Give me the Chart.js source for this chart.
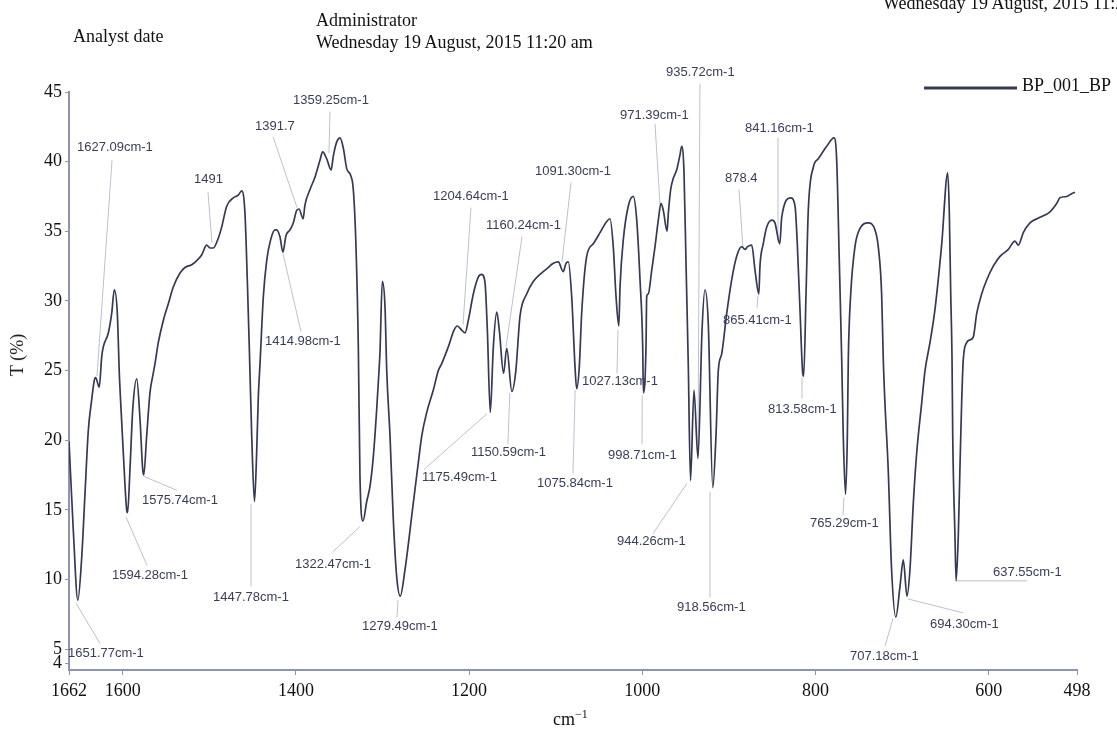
<!DOCTYPE html>
<html>
<head>
<meta charset="utf-8">
<title>BP_001_BP IR spectrum</title>
<script src="https://cdn.jsdelivr.net/npm/chart.js@4.4.1/dist/chart.umd.min.js"></script>
<style>
  html, body { margin: 0; padding: 0; background: #fff; }
  #wrap { position: relative; width: 1117px; height: 730px; overflow: hidden; }
  #chart { position: absolute; left: 0; top: 0; }
  .txt { position: absolute; font-family: "Liberation Serif", "Times New Roman", serif; font-size: 18px; line-height: 18px; color: #111; white-space: nowrap; }
  .txt sup { font-size: 12px; line-height: 0; vertical-align: 7px; }
</style>
</head>
<body>
<div id="wrap">
  <canvas id="chart" width="1117" height="730"></canvas>
  <div class="txt" style="left:883px; top:-6px;">Wednesday 19 August, 2015 11:20 am</div>
  <div class="txt" style="left:73px; top:27px;">Analyst date</div>
  <div class="txt" style="left:316px; top:11px;">Administrator</div>
  <div class="txt" style="left:316px; top:33px;">Wednesday 19 August, 2015 11:20 am</div>
  <div class="txt" style="left:17px; top:355px; transform: translate(-50%, -50%) rotate(-90deg);">T (%)</div>
  <div class="txt" style="left:553px; top:710px;">cm<sup>&minus;1</sup></div>
</div>
<script>
// spectrum (cm-1, T %)
const wavenumber = [
  1662, 1657, 1651.8, 1647.3, 1643.5, 1639.7, 1635.8, 1632.8, 1631.2, 1627.1,
  1624.2, 1622.4, 1616.6, 1612.7, 1609.7, 1606.2, 1603.9, 1602.3, 1599.3, 1595.4,
  1594.3, 1591.6, 1588.4, 1583.8, 1580.0, 1576.9, 1575.7, 1572.3, 1568.5, 1564.7,
  1562.7, 1558.9, 1553.1, 1547.3, 1541.6, 1533.8, 1528.1, 1520.3, 1514.5, 1508.8,
  1503.0, 1499.2, 1495.4, 1489.6, 1485.7, 1479.9, 1472.3, 1466.5, 1462.6, 1458.8,
  1456.1, 1453.8, 1451.0, 1447.8, 1445.3, 1443.4, 1441.4, 1437.6, 1433.7, 1429.1,
  1424.1, 1422.2, 1418.4, 1415.0, 1411.4, 1406.8, 1403.0, 1399.1, 1396.4, 1391.7,
  1389.5, 1383.7, 1377.9, 1372.2, 1369.1, 1364.4, 1359.3, 1356.8, 1352.9, 1349.1,
  1345.3, 1341.3, 1336.7, 1333.7, 1330.6, 1327.9, 1326.0, 1322.5, 1318.2, 1314.4,
  1310.6, 1306.7, 1304.0, 1302.9, 1300.2, 1297.1, 1295.1, 1291.3, 1287.5, 1283.6,
  1279.5, 1274.0, 1264.4, 1258.6, 1254.7, 1248.9, 1241.3, 1235.5, 1231.6, 1224.0,
  1217.4, 1213.6, 1208.5, 1204.6, 1200.9, 1195.1, 1189.4, 1185.4, 1181.6, 1178.9,
  1175.5, 1172.0, 1168.1, 1165.1, 1160.2, 1156.5, 1150.6, 1146.0, 1141.2, 1133.5,
  1125.9, 1118.1, 1110.4, 1102.7, 1097.0, 1091.3, 1088.1, 1085.4, 1081.5, 1077.7,
  1075.8, 1072.7, 1070.0, 1064.2, 1056.6, 1048.8, 1041.1, 1037.3, 1033.5, 1030.3,
  1027.1, 1025.7, 1021.9, 1016.2, 1010.4, 1006.4, 1002.6, 999.5, 998.7, 995.7,
  994.9, 993.1, 989.1, 985.3, 981.5, 978.4, 975.7, 971.4, 969.9, 967.2,
  964.2, 960.3, 956.4, 954.5, 951.8, 949.5, 946.9, 944.3, 940.3, 935.7,
  931.0, 927.6, 923.8, 918.6, 914.9, 912.2, 908.3, 902.5, 896.8, 891.0,
  885.2, 881.4, 878.4, 873.6, 869.8, 865.4, 864.1, 860.3, 856.3, 850.5,
  846.8, 841.2, 839.0, 828.6, 823.6, 821.0, 817.9, 814.7, 813.6, 810.9,
  808.3, 802.5, 796.7, 787.0, 778.6, 775.5, 772.5, 769.7, 767.9, 765.3,
  763.2, 762.1, 759.3, 754.4, 748.6, 739.0, 731.3, 727.5, 723.6, 721.7,
  719.8, 716.0, 712.1, 707.2, 702.4, 698.6, 694.3, 690.9, 687.0, 683.1,
  677.3, 673.5, 667.8, 662.0, 654.2, 647.3, 645.5, 643.8, 642.3, 641.5,
  638.9, 637.6, 635.1, 633.2, 631.2, 629.3, 625.4, 621.6, 617.8, 613.8,
  608.1, 602.3, 594.7, 586.9, 577.3, 569.6, 565.8, 560.0, 552.3, 540.8,
  529.2, 521.5, 517.7, 510.0, 504.2, 500.3
];
const transmittance = [
  19.9, 13.5, 8.5, 11.6, 16.2, 20.7, 22.9, 24.3, 24.5, 23.8,
  26.0, 26.7, 27.7, 29.1, 30.8, 29.1, 24.8, 22.7, 19.1, 15.0,
  14.8, 17.9, 22.2, 24.4, 21.5, 17.9, 17.5, 20.3, 23.4, 24.8,
  25.5, 27.0, 28.6, 29.8, 31.0, 32.0, 32.4, 32.6, 32.9, 33.3,
  34.0, 33.8, 33.8, 34.5, 35.3, 36.8, 37.4, 37.6, 37.9, 36.3,
  31.5, 26.7, 20.3, 15.6, 19.1, 23.1, 25.5, 30.3, 32.9, 34.4,
  35.1, 35.1, 34.6, 33.5, 34.7, 35.1, 35.6, 36.5, 36.6, 35.9,
  36.9, 38.0, 38.9, 40.1, 40.7, 40.2, 39.4, 40.4, 41.4, 41.7,
  41.0, 39.5, 39.0, 38.0, 33.9, 26.7, 17.4, 14.2, 15.6, 16.7,
  18.8, 22.2, 25.0, 26.3, 31.4, 29.6, 25.0, 20.3, 14.3, 10.2,
  8.8, 10.7, 15.5, 18.4, 20.3, 22.0, 23.6, 25.0, 25.5, 26.7,
  27.9, 28.2, 27.9, 27.7, 28.6, 30.5, 31.7, 31.9, 31.3, 27.9,
  22.0, 26.7, 29.2, 27.9, 24.8, 26.6, 23.5, 25.0, 28.9, 30.5,
  31.4, 31.9, 32.3, 32.7, 32.8, 32.1, 32.7, 32.8, 30.3, 25.3,
  23.7, 25.3, 29.1, 33.2, 34.1, 34.9, 35.7, 35.9, 33.9, 30.3,
  28.2, 31.0, 34.4, 36.8, 37.5, 35.8, 31.5, 26.7, 23.4, 26.7,
  30.3, 30.5, 32.2, 33.9, 35.8, 37.0, 36.5, 35.0, 36.3, 38.0,
  38.8, 39.4, 40.5, 41.1, 39.2, 32.7, 25.5, 17.1, 23.6, 18.7,
  27.9, 30.8, 28.4, 16.6, 20.3, 25.0, 26.2, 29.1, 31.5, 33.2,
  33.9, 33.7, 33.9, 34.0, 32.2, 30.5, 32.5, 34.1, 35.3, 35.8,
  35.6, 34.1, 36.0, 37.4, 36.8, 34.1, 29.4, 24.8, 24.6, 30.5,
  36.5, 39.6, 40.2, 41.1, 41.7, 40.1, 32.9, 25.8, 20.3, 16.1,
  20.3, 25.8, 30.5, 33.9, 35.2, 35.6, 35.1, 33.9, 30.5, 25.8,
  22.7, 17.9, 10.7, 7.3, 9.5, 11.4, 8.8, 10.7, 15.5, 19.1,
  22.7, 25.0, 27.0, 29.4, 34.1, 39.2, 36.5, 30.5, 25.8, 20.3,
  13.1, 9.9, 13.1, 17.9, 22.7, 25.8, 27.0, 27.2, 27.4, 29.1,
  30.5, 31.5, 32.5, 33.2, 33.7, 34.3, 34.0, 34.9, 35.6, 36.0,
  36.4, 37.0, 37.4, 37.5, 37.7, 37.8
];

const xTicks = [1662, 1600, 1400, 1200, 1000, 800, 600, 498];
const yTicks = [4, 5, 10, 15, 20, 25, 30, 35, 40, 45];
const seriesName = 'BP_001_BP';

// peak annotations: text and the point on the curve the leader touches
const peakLabels = [
  '1627.09cm-1', '1651.77cm-1', '1594.28cm-1', '1575.74cm-1', '1491',
  '1447.78cm-1', '1414.98cm-1', '1391.7', '1359.25cm-1', '1322.47cm-1',
  '1279.49cm-1', '1204.64cm-1', '1175.49cm-1', '1160.24cm-1', '1150.59cm-1',
  '1091.30cm-1', '1075.84cm-1', '1027.13cm-1', '998.71cm-1', '971.39cm-1',
  '935.72cm-1', '944.26cm-1', '918.56cm-1', '878.4', '865.41cm-1',
  '841.16cm-1', '813.58cm-1', '765.29cm-1', '707.18cm-1', '694.30cm-1',
  '637.55cm-1'
];
const peakTips = [
  [1629.7, 24.6], [1653.9, 8.3], [1596.2, 14.5], [1575.4, 17.4], [1496.9, 34.2],
  [1451.8, 15.4], [1414.9, 33.4], [1398.7, 36.7], [1361.8, 40.6], [1326.0, 13.8],
  [1282.1, 8.5], [1207.0, 28.3], [1179.3, 21.9], [1157.4, 26.7], [1153.0, 23.4],
  [1092.7, 32.8], [1077.5, 23.6], [1028.0, 27.9], [1000.0, 23.2], [979.5, 36.9],
  [935.7, 18.9], [948.4, 16.9], [921.8, 16.3], [883.7, 33.8], [866.4, 30.4],
  [843.3, 34.2], [815.6, 24.5], [767.1, 15.9], [710.5, 7.2], [693.2, 8.6],
  [636.6, 9.9]
];

// layout of the annotation texts (left edge, middle) and the far end of each leader
const labelAt = [
  [1652.8, 41.0], [1663.2, 4.7], [1612.3, 10.3], [1577.7, 15.7], [1517.7, 38.7],
  [1495.7, 8.7], [1435.7, 27.1], [1447.2, 42.5], [1403.3, 44.4], [1401.0, 11.1],
  [1323.7, 6.6], [1241.7, 37.5], [1254.4, 17.3], [1180.5, 35.4], [1197.8, 19.1],
  [1123.9, 39.3], [1121.6, 16.9], [1069.6, 24.2], [1039.6, 18.9], [1025.7, 43.3],
  [972.6, 46.4], [1029.2, 12.7], [959.9, 8.0], [904.5, 38.8], [906.8, 28.6],
  [881.4, 42.4], [854.8, 22.2], [806.3, 14.0], [760.1, 4.5], [667.8, 6.8],
  [595.0, 10.5]
];
const leaderFrom = [
  [1612.3, 40.1], [1626.2, 5.4], [1571.9, 11.0], [1537.3, 16.4], [1501.5, 37.8],
  [1451.8, 9.5], [1394.1, 27.8], [1426.4, 41.8], [1360.6, 43.6], [1357.1, 12.0],
  [1283.2, 7.3], [1197.8, 36.7], [1252.0, 17.9], [1138.9, 34.6], [1155.1, 19.7],
  [1082.3, 38.5], [1080.0, 17.6], [1029.2, 24.8], [1000.3, 19.7], [985.3, 42.7],
  [933.4, 45.6], [987.6, 13.3], [921.8, 8.7], [888.3, 38.0], [867.5, 29.5],
  [843.3, 41.7], [815.6, 23.0], [768.2, 14.6], [719.7, 5.2], [629.6, 7.6],
  [555.7, 9.9]
];

const lineColor = '#343955';

const peakNotes = {
  id: 'peakNotes',
  beforeDatasetsDraw(chart) {
    const { ctx, scales: { x, y } } = chart;
    ctx.save();
    ctx.strokeStyle = '#bcc0d2';
    ctx.lineWidth = 1;
    leaderFrom.forEach((p, i) => {
      ctx.beginPath();
      ctx.moveTo(x.getPixelForValue(p[0]), y.getPixelForValue(p[1]));
      ctx.lineTo(x.getPixelForValue(peakTips[i][0]), y.getPixelForValue(peakTips[i][1]));
      ctx.stroke();
    });
    ctx.restore();
  },
  afterDatasetsDraw(chart) {
    const { ctx, scales: { x, y } } = chart;
    ctx.save();
    ctx.fillStyle = '#383d5a';
    ctx.font = '13px "Liberation Sans", Arial, sans-serif';
    ctx.textAlign = 'left';
    ctx.textBaseline = 'middle';
    peakLabels.forEach((t, i) => {
      ctx.fillText(t, x.getPixelForValue(labelAt[i][0]), y.getPixelForValue(labelAt[i][1]));
    });

    // legend: line sample + series name, top right
    ctx.strokeStyle = lineColor;
    ctx.lineWidth = 3;
    ctx.beginPath();
    ctx.moveTo(924, 88);
    ctx.lineTo(1017, 88);
    ctx.stroke();
    ctx.fillStyle = '#111';
    ctx.font = '18px "Liberation Serif", "Times New Roman", serif';
    ctx.textBaseline = 'alphabetic';
    ctx.fillText(seriesName, 1022, 91);
    ctx.restore();
  }
};

const axisColor = '#8e93b0';
const tickFont = { family: '"Liberation Serif", "Times New Roman", serif', size: 18 };

new Chart(document.getElementById('chart'), {
  type: 'line',
  data: {
    datasets: [{
      label: seriesName,
      data: wavenumber.map((w, i) => ({ x: w, y: transmittance[i] })),
      borderColor: lineColor,
      borderWidth: 1.7,
      pointRadius: 0,
      cubicInterpolationMode: 'monotone',
      fill: false
    }]
  },
  options: {
    responsive: false,
    animation: false,
    parsing: false,
    layout: { padding: { top: 92, right: 40, left: 0, bottom: 0 } },
    plugins: {
      legend: { display: false },
      tooltip: { enabled: false }
    },
    scales: {
      x: {
        type: 'linear',
        reverse: true,
        min: 498,
        max: 1662,
        afterBuildTicks: s => { s.ticks = xTicks.map(v => ({ value: v })); },
        afterFit: s => { s.height = 60; },
        ticks: {
          autoSkip: false,
          maxRotation: 0,
          color: '#111',
          font: tickFont,
          padding: 5,
          callback: v => String(v)
        },
        grid: { display: true, drawOnChartArea: false, drawTicks: true, tickLength: 5, color: axisColor },
        border: { display: true, color: axisColor, width: 2 }
      },
      y: {
        type: 'linear',
        min: 3.5,
        max: 45,
        afterBuildTicks: s => { s.ticks = yTicks.map(v => ({ value: v })); },
        afterFit: s => { s.width = 69; },
        ticks: {
          autoSkip: false,
          color: '#111',
          font: tickFont,
          padding: 3,
          callback: v => String(v)
        },
        grid: { display: true, drawOnChartArea: false, drawTicks: true, tickLength: 4, color: axisColor },
        border: { display: true, color: axisColor, width: 2 }
      }
    }
  },
  plugins: [peakNotes]
});
</script>
</body>
</html>
